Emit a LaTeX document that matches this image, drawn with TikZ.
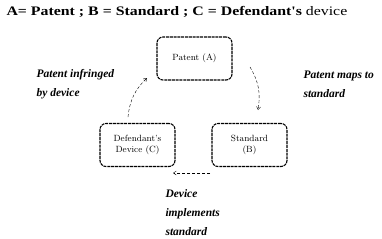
\documentclass[tikz,border=0pt]{standalone}
\usepackage{fontspec}
\newfontfamily\timesfont[FakeStretch=1.22]{Liberation Serif}
\newfontfamily\notefont{Liberation Serif}
\usepackage{tikz}
\usetikzlibrary{arrows.meta,positioning}

\begin{document}
\begin{tikzpicture}[x=1pt, y=-1pt,
    party/.style={draw, line width=1.1pt, dash pattern=on 3pt off 0.8pt, rounded corners=6pt, minimum width=75pt, minimum height=43pt, align=center, font=\fontsize{9}{11}\selectfont, inner sep=2pt},
    lbl/.style={align=left, anchor=west, font=\notefont\fontsize{11.5}{19}\selectfont\bfseries\itshape},
    arr/.style={-{Straight Barb[length=3pt,width=4pt]}, densely dashed, thin}
]
\useasboundingbox (0,0) rectangle (382,238);
\node[anchor=west, font=\timesfont\fontsize{13}{14}\selectfont] (title) at (3,12) {\textbf{A= Patent ; B = Standard ; C = Defendant's} device};

\node[party] (pa) at (194.5,58.5) {Patent (A)};
\node[party] (dev) at (137.5,145) {Defendant's\\Device (C)};
\node[party] (std) at (249.5,145) {Standard\\(B)};

\coordinate (l1) at (128,117);
\coordinate (l2) at (147,78);
\coordinate (r1) at (250,67);
\coordinate (r2) at (258,110);
\coordinate (b1) at (210,173);
\coordinate (b2) at (173,173);

\draw[arr] (l1) to[bend left=20] (l2);
\draw[arr] (r1) to[bend left=20] (r2);
\draw[arr] (b1) -- (b2);

\node[lbl] (infr) at (33,84) {Patent infringed\\by device};
\node[lbl] (maps) at (300,84) {Patent maps to\\standard};
\node[lbl] (impl) at (162,213) {Device\\implements\\standard};
\end{tikzpicture}
\end{document}
